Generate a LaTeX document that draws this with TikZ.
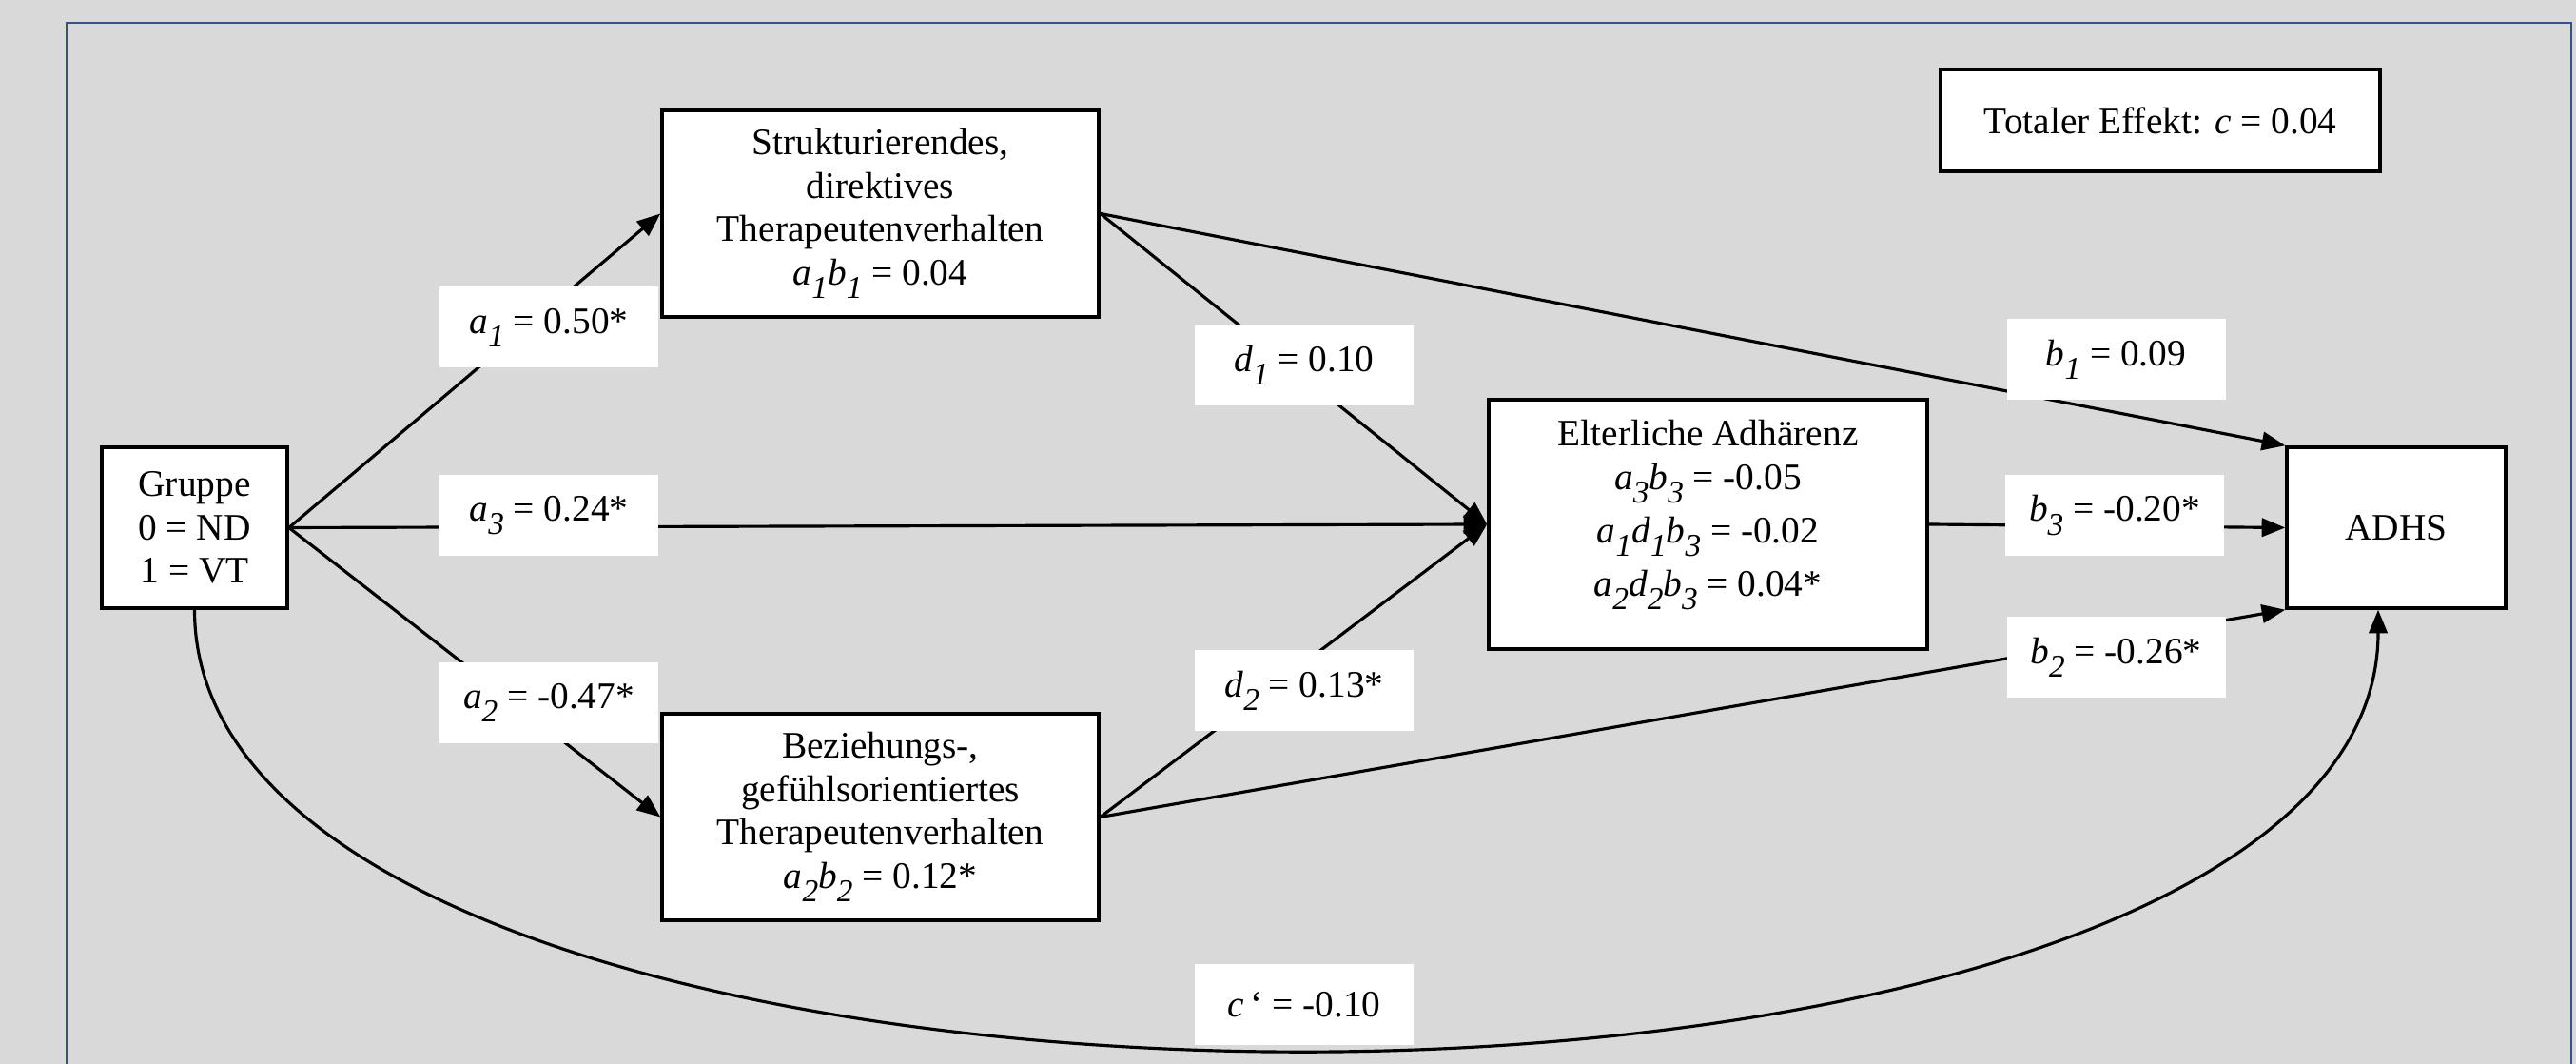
\documentclass[tikz,border=0pt]{standalone}
\usepackage{fontspec}
\setmainfont{Liberation Serif}
\usepackage{tikz}
\usetikzlibrary{positioning,arrows.meta}
\definecolor{bggray}{RGB}{217,217,217}
\definecolor{framecol}{RGB}{55,80,135}
\newcommand{\vs}[2]{\textit{#1}\raisebox{-4pt}{\fontsize{9.5}{9.5}\selectfont\textit{#2}}}

\begin{document}
\begin{tikzpicture}[>={Triangle[length=7pt,width=5.5pt]},
		every node/.style={font=\fontsize{11.2}{13}\selectfont},
		box/.style={draw=black,fill=white,line width=1pt,align=center},
		lbl/.style={fill=white,minimum width=2.3cm,minimum height=0.85cm,inner sep=0pt},
		arr/.style={line width=0.9pt,->}]
		\useasboundingbox (0,0) rectangle (27.08,11.18);
		\fill[bggray] (0,0) rectangle (27.08,11.18);
		\draw[framecol,line width=0.7pt] (0.70,0) -- (0.70,10.94) -- (27.03,10.94) -- (27.03,0);

		%left and middle nodes
		\node[box,minimum width=1.95cm,minimum height=1.69cm] (gruppe) at (2.045,5.635) {Gruppe\\0 = ND\\1 = VT};
		\node[box,minimum width=4.59cm,minimum height=2.17cm] (strukt) at (9.255,8.935) {Strukturierendes,\\direktives\\Therapeutenverhalten\\\vs{a}{1}\vs{b}{1} = 0.04};
		\node[box,minimum width=4.59cm,minimum height=2.17cm] (bezieh) at (9.255,2.595) {Beziehungs-,\\gefühlsorientiertes\\Therapeutenverhalten\\\vs{a}{2}\vs{b}{2} = 0.12*};
		\node[box,minimum width=4.61cm,minimum height=2.62cm,text depth=0.34cm] (eltern) at (17.955,5.67) {Elterliche Adhärenz\\\vs{a}{3}\vs{b}{3} = -0.05\\[3pt]\vs{a}{1}\vs{d}{1}\vs{b}{3} = -0.02\\[3pt]\vs{a}{2}\vs{d}{2}\vs{b}{3} = 0.04*};

		%right nodes
		\node[box,minimum width=2.30cm,minimum height=1.69cm] (adhs) at (25.19,5.635) {ADHS};
		\node[box,minimum width=4.62cm,minimum height=1.07cm] (total) at (22.71,9.915) {Totaler Effekt: \textit{c} = 0.04};

		%edges
		\draw[arr] (gruppe.east) -- (strukt.west);
		\draw[arr] (gruppe.east) -- (eltern.west);
		\draw[arr] (gruppe.east) -- (bezieh.west);
		\draw[arr] (strukt.east) -- (eltern.west);
		\draw[arr] (strukt.east) -- (adhs.north west);
		\draw[arr] (bezieh.east) -- (eltern.west);
		\draw[arr] (bezieh.east) -- (adhs.south west);
		\draw[arr] (eltern.east) -- (adhs.west);
		\draw[arr] (gruppe.south) .. controls (2.045,-1.38) and (25.0,-1.38) .. ([xshift=-0.19cm]adhs.south);

		%edge labels
		\node[lbl] (la1) at (5.77,7.74) {\vs{a}{1} = 0.50*};
		\node[lbl] (la3) at (5.77,5.765) {\vs{a}{3} = 0.24*};
		\node[lbl] (la2) at (5.77,3.795) {\vs{a}{2} = -0.47*};
		\node[lbl] (ld1) at (13.71,7.345) {\vs{d}{1} = 0.10};
		\node[lbl] (ld2) at (13.71,3.925) {\vs{d}{2} = 0.13*};
		\node[lbl] (lb1) at (22.245,7.405) {\vs{b}{1} = 0.09};
		\node[lbl] (lb3) at (22.23,5.765) {\vs{b}{3} = -0.20*};
		\node[lbl] (lb2) at (22.245,4.275) {\vs{b}{2} = -0.26*};
		\node[lbl] (lc) at (13.71,0.625) {\textit{c}\,‘ = -0.10};
	\end{tikzpicture}
\end{document}
